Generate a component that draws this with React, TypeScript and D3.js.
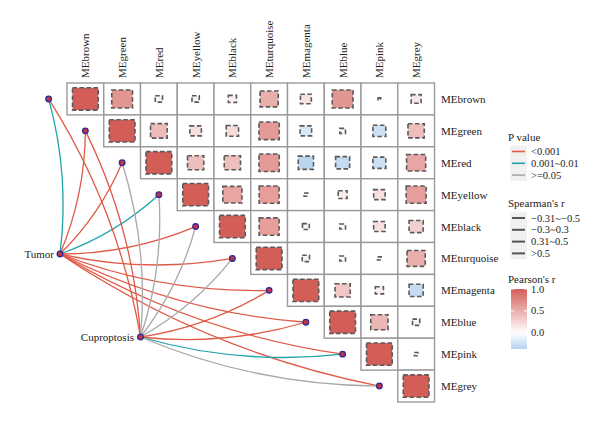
import * as d3 from "d3";

const modules = ["MEbrown", "MEgreen", "MEred", "MEyellow", "MEblack", "MEturquoise", "MEmagenta", "MEblue", "MEpink", "MEgrey"];

// upper triangle of Pearson's r, row i holds columns i..9
const rBrown = [1.0, 0.65, 0.08, 0.08, 0.1, 0.5, 0.18, 0.65, 0.01, 0.15];
const rGreen = [1.0, 0.42, 0.2, 0.23, 0.62, -0.2, 0.05, -0.25, 0.4];
const rRed = [1.0, 0.4, 0.4, 0.62, -0.35, -0.3, -0.25, 0.55];
const rYellow = [1.0, 0.55, 0.6, 0.02, 0.12, 0.2, 0.6];
const rBlack = [1.0, 0.6, 0.07, 0.05, 0.2, 0.3];
const rTurquoise = [1.0, -0.08, 0.05, 0.02, 0.5];
const rMagenta = [1.0, 0.35, 0.1, -0.3];
const rBlue = [1.0, 0.45, 0.08];
const rPink = [1.0, 0.02];
const rGrey = [1.0];
const rRows = [rBrown, rGreen, rRed, rYellow, rBlack, rTurquoise, rMagenta, rBlue, rPink, rGrey];

// P value class of each link, one per module
const tumorP = ["mid", "low", "low", "mid", "low", "low", "low", "low", "low", "low"];
const cuproP = ["low", "low", "ns", "ns", "ns", "ns", "low", "low", "mid", "ns"];

const pLabels = ["<0.001", "0.001~0.01", ">=0.05"];
const spearmanLabels = ["\u22120.31~\u22120.5", "\u22120.3~0.3", "0.31~0.5", ">0.5"];
const colorTicks = [1.0, 0.5, 0.0];

const pColor: Record<string, string> = { low: "#E05A47", mid: "#1FA3A8", ns: "#A8A8A8" };
const pKeys = ["low", "mid", "ns"];

const FONT = "Liberation Serif, Times New Roman, DejaVu Serif, Times, serif";

export default function App() {
  const W = 600;
  const H = 422;

  const x = d3.scaleBand<string>().domain(modules).range([67, 434.5]);
  const y = d3.scaleBand<string>().domain(modules).range([83, 402]);
  const cw = x.bandwidth();
  const ch = y.bandwidth();

  const fill = d3
    .scaleLinear<string>()
    .domain([-0.37, 0, 1])
    .range(["#b6d3ee", "#ffffff", "#d35e58"]);

  const sizeScale = d3.scaleSqrt().domain([0, 1]).range([0, 0.7]);

  const tumor = { x: 60, y: 254 };
  const cupro = { x: 140.5, y: 337 };

  const anchor = (i: number) => ({
    x: (x(modules[i]) as number) - cw / 2,
    y: (y(modules[i]) as number) + ch / 2,
  });

  const curve = (a: { x: number; y: number }, b: { x: number; y: number }) => {
    const dx = b.x - a.x;
    const dy = b.y - a.y;
    const k = 0.1;
    const cx = (a.x + b.x) / 2 - dy * k;
    const cy = (a.y + b.y) / 2 + dx * k;
    const p = d3.path();
    p.moveTo(a.x, a.y);
    p.quadraticCurveTo(cx, cy, b.x, b.y);
    return p.toString();
  };

  // colorbar
  const barY = d3.scaleLinear().domain([-0.37, 1]).range([349, 289]);
  const barStops = d3.range(0, 1.0001, 0.05).map((t) => -0.37 + t * 1.37);

  const txt = { fontFamily: FONT };

  return (
    <svg width={W} height={H} style={{ position: "absolute", left: 0, top: 0, fontFamily: FONT }}>
      <rect width={W} height={H} fill="#ffffff" />

      {/* column labels */}
      {modules.map((m) => (
        <text
          key={"c" + m}
          transform={`translate(${(x(m) as number) + cw / 2 + 4},78) rotate(-90)`}
          fontSize={11}
          fill="#222"
          style={txt}
        >
          {m}
        </text>
      ))}

      {/* row labels */}
      {modules.map((m) => (
        <text key={"r" + m} x={441} y={(y(m) as number) + ch / 2 + 4} fontSize={11} fill="#222" style={txt}>
          {m}
        </text>
      ))}

      {/* cells */}
      {rRows.map((row, i) =>
        row.map((r, k) => {
          const j = i + k;
          const cx = (x(modules[j]) as number) + cw / 2;
          const cy = (y(modules[i]) as number) + ch / 2;
          const s = sizeScale(Math.abs(r));
          const w = s * cw;
          const h = s * ch;
          return (
            <g key={`cell${i}-${j}`}>
              <rect
                x={x(modules[j])}
                y={y(modules[i])}
                width={cw}
                height={ch}
                fill="#fff"
                stroke="#9a9a9a"
                strokeWidth={1.4}
              />
              <rect
                x={cx - w / 2}
                y={cy - h / 2}
                width={w}
                height={h}
                fill={fill(r)}
                stroke="#5a5a5a"
                strokeWidth={1.6}
                strokeDasharray="4.5,2.5"
              />
            </g>
          );
        })
      )}

      {/* links */}
      {tumorP.map((p, i) => (
        <path key={"t" + i} d={curve(tumor, anchor(i))} fill="none" stroke={pColor[p]} strokeWidth={1.3} />
      ))}
      {cuproP.map((p, i) => (
        <path key={"cu" + i} d={curve(cupro, anchor(i))} fill="none" stroke={pColor[p]} strokeWidth={1.3} />
      ))}

      {/* nodes */}
      {modules.map((m, i) => {
        const a = anchor(i);
        return <circle key={"n" + m} cx={a.x} cy={a.y} r={2.8} fill="#c8323c" stroke="#2f2a9a" strokeWidth={1.3} />;
      })}
      {[tumor, cupro].map((n, i) => (
        <circle key={"env" + i} cx={n.x} cy={n.y} r={2.8} fill="#c8323c" stroke="#2f2a9a" strokeWidth={1.3} />
      ))}
      <text x={54} y={tumor.y + 4} textAnchor="end" fontSize={11} fill="#222" style={txt}>
        Tumor
      </text>
      <text x={134} y={cupro.y + 4} textAnchor="end" fontSize={11} fill="#222" style={txt}>
        Cuproptosis
      </text>

      {/* legend: P value */}
      <text x={508} y={141} fontSize={11} fill="#222" style={txt}>
        P value
      </text>
      {pLabels.map((lab, i) => {
        const ly = 151.5 + i * 11.8;
        return (
          <g key={"pl" + i}>
            <rect x={510} y={ly - 5.9} width={17} height={11.8} fill="#f0f0f0" />
            <line x1={512} x2={525} y1={ly} y2={ly} stroke={pColor[pKeys[i]]} strokeWidth={1.6} />
            <text x={531} y={ly + 3.6} fontSize={10.5} fill="#222" style={txt}>
              {lab}
            </text>
          </g>
        );
      })}

      {/* legend: Spearman's r */}
      <text x={508} y={207} fontSize={11} fill="#222" style={txt}>
        Spearman's r
      </text>
      {spearmanLabels.map((lab, i) => {
        const ly = 218 + i * 11.8;
        return (
          <g key={"sl" + i}>
            <rect x={510} y={ly - 5.9} width={17} height={11.8} fill="#f0f0f0" />
            <line x1={512} x2={525} y1={ly} y2={ly} stroke="#555" strokeWidth={2} />
            <text x={531} y={ly + 3.6} fontSize={10.5} fill="#222" style={txt}>
              {lab}
            </text>
          </g>
        );
      })}

      {/* legend: Pearson's r */}
      <text x={508} y={283} fontSize={11} fill="#222" style={txt}>
        Pearson's r
      </text>
      <defs>
        <linearGradient id="pearson" x1="0" y1="1" x2="0" y2="0">
          {barStops.map((v, i) => (
            <stop key={i} offset={`${(i / (barStops.length - 1)) * 100}%`} stopColor={fill(v)} />
          ))}
        </linearGradient>
      </defs>
      <rect x={511} y={289} width={16} height={60} fill="url(#pearson)" />
      {colorTicks.map((t) => (
        <g key={"ct" + t}>
          <line x1={511} x2={514} y1={barY(t)} y2={barY(t)} stroke="#fff" strokeWidth={1} />
          <line x1={524} x2={527} y1={barY(t)} y2={barY(t)} stroke="#fff" strokeWidth={1} />
          <text x={531} y={barY(t) + 3.6} fontSize={10.5} fill="#222" style={txt}>
            {t.toFixed(1)}
          </text>
        </g>
      ))}
    </svg>
  );
}
